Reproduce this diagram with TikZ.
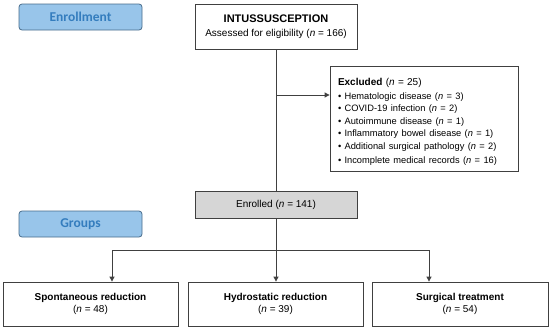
\documentclass[tikz,border=0pt]{standalone}
\usepackage{fontspec}
\setmainfont{Liberation Sans}
\newfontfamily\phasefont{Carlito}
\usetikzlibrary{positioning}
\usetikzlibrary{calc}
\usetikzlibrary{arrows.meta}
\definecolor{phasefill}{RGB}{152,197,234}
\definecolor{phasedraw}{RGB}{72,108,140}
\definecolor{phasetext}{RGB}{52,125,190}
\definecolor{boxline}{RGB}{64,64,64}
\definecolor{enrolfill}{RGB}{214,214,214}

\tikzset{
  phase/.style={draw=phasedraw, fill=phasefill, rounded corners=3pt, line width=0.8pt,
    minimum width=123pt, minimum height=26pt, inner sep=0pt, text=phasetext,
    font=\phasefont\bfseries\fontsize{13.5}{15}\selectfont},
  flowbox/.style={draw=boxline, line width=0.8pt, inner sep=0pt, align=center,
    font=\fontsize{10}{14}\selectfont},
  link/.style={draw=boxline, line width=0.8pt},
  tip/.style={link, -{Triangle[length=5pt,width=5pt]}},
}

\begin{document}
\begin{tikzpicture}[x=1pt, y=-1pt]

\useasboundingbox (0,0) rectangle (550,330);

%---------------------------------------
% Phase labels
%---------------------------------------
\node[phase] (enrolment) at (80.5,17) {Enrollment};
\node[phase] (groups)    at (80.5,224) {Groups};

%---------------------------------------
% Enrollment
%---------------------------------------
\node[flowbox, minimum width=162pt, minimum height=45pt] (intus) at (276,26.5)
  {{\fontsize{11}{14}\selectfont\bfseries INTUSSUSCEPTION}\\Assessed for eligibility (\textit{n} = 166)};

\node[flowbox, align=left, text width=172pt, minimum width=188pt, minimum height=105pt] (excl) at (424,118.5)
  {\rule{0pt}{13pt}\textbf{Excluded} (\textit{n} = 25)\\[2pt]
   {\fontsize{9.3}{12.4}\selectfont
   \textbullet{} Hematologic disease (\textit{n} = 3)\\
   \textbullet{} COVID-19 infection (\textit{n} = 2)\\
   \textbullet{} Autoimmune disease (\textit{n} = 1)\\
   \textbullet{} Inflammatory bowel disease (\textit{n} = 1)\\
   \textbullet{} Additional surgical pathology (\textit{n} = 2)\\
   \textbullet{} Incomplete medical records (\textit{n} = 16)}};

\node[flowbox, fill=enrolfill, minimum width=162pt, minimum height=27pt] (enrol) at (276,204.5)
  {Enrolled (\textit{n} = 141)};

%---------------------------------------
% Groups
%---------------------------------------
\node[flowbox, minimum width=175pt, minimum height=44pt] (spont) at (90.5,304)
  {\textbf{Spontaneous reduction}\\[-2pt](\textit{n} = 48)};
\node[flowbox, minimum width=175pt, minimum height=44pt] (hydro) at (275.5,304)
  {\textbf{Hydrostatic reduction}\\[-2pt](\textit{n} = 39)};
\node[flowbox, minimum width=176pt, minimum height=44pt] (surg) at (460,304)
  {\textbf{Surgical treatment}\\[-2pt](\textit{n} = 54)};

% Connectors
\coordinate (exclsplit)  at (276,95);
\coordinate (groupsplit) at (276,250);
\coordinate (leftsplit)  at (112,250);
\coordinate (rightsplit) at (429,250);

\draw[link] (intus.south) -- (enrol.north);
\draw[tip] (exclsplit) -- (exclsplit -| excl.west);

\draw[link] (enrol.south) -- (groupsplit);
\draw[link] (leftsplit) -- (rightsplit);
\draw[tip] (leftsplit) -- (leftsplit |- spont.north);
\draw[tip] (groupsplit) -- (groupsplit |- hydro.north);
\draw[tip] (rightsplit) -- (rightsplit |- surg.north);

\end{tikzpicture}
\end{document}
